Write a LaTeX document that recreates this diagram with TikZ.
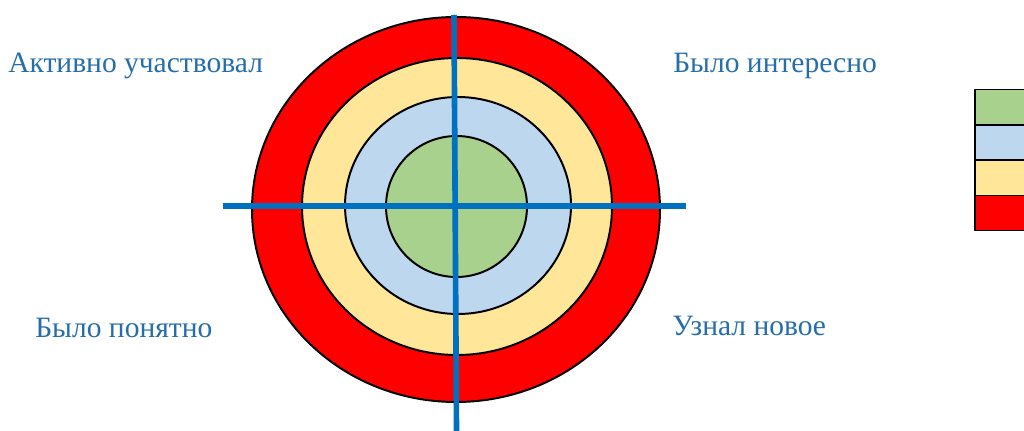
\documentclass[tikz,border=0pt]{standalone}
\usepackage{fontspec}
\setmainfont{Liberation Serif}
\definecolor{ringred}{RGB}{255,0,0}
\definecolor{ringyellow}{RGB}{255,230,153}
\definecolor{ringblue}{RGB}{189,215,238}
\definecolor{ringgreen}{RGB}{169,209,142}
\definecolor{crossblue}{RGB}{0,112,192}
\definecolor{labelblue}{RGB}{38,110,170}
\begin{document}
\begin{tikzpicture}[x=0.025cm, y=-0.025cm, line join=round,
		ring/.style={draw=black, line width=1.4pt},
		label/.style={text=labelblue, font=\fontsize{21}{25}\selectfont, anchor=base west, inner sep=0pt},
		cross/.style={draw=crossblue, line width=4pt},
		legendbox/.style={draw=black, line width=1.1pt}]
				% Khung hình
				\clip (0,0) rectangle (1024,431);
				\useasboundingbox (0,0) rectangle (1024,431);
				
				% Tâm bia
				\coordinate (O) at (456,207);
				
				% Các vòng tròn (từ ngoài vào trong)
				\filldraw[ring, fill=ringred] (456,209.5) ellipse (204 and 192.5);
				\filldraw[ring, fill=ringyellow] (457,206.5) ellipse (155 and 148.5);
				\filldraw[ring, fill=ringblue] (458,205.5) ellipse (113 and 108.5);
				\filldraw[ring, fill=ringgreen] (456.5,206.5) ellipse (70.5 and 70.5);
				
				% Hai trục chữ thập
				\coordinate (T) at (454,15);
				\coordinate (D) at (456.5,431);
				\coordinate (L) at (222.5,206.3);
				\coordinate (R) at (685.5,206.3);
				\draw[cross] (T) -- (D);
				\draw[cross] (L) -- (R);
				
				% Nhãn bốn góc
				\node[label] (active) at (8,73) {Активно участвовал};
				\node[label] (interest) at (673,73) {Было интересно};
				\node[label] (clear) at (35,337) {Было понятно};
				\node[label] (newfact) at (672,336) {Узнал новое};
				
				% Chú thích màu
				\foreach \c [count=\i from 0] in {ringgreen, ringblue, ringyellow, ringred}
					\filldraw[legendbox, fill=\c] (975,89.5+35.3*\i) rectangle (1040,89.5+35.3*\i+35.3);
\end{tikzpicture}
\end{document}
